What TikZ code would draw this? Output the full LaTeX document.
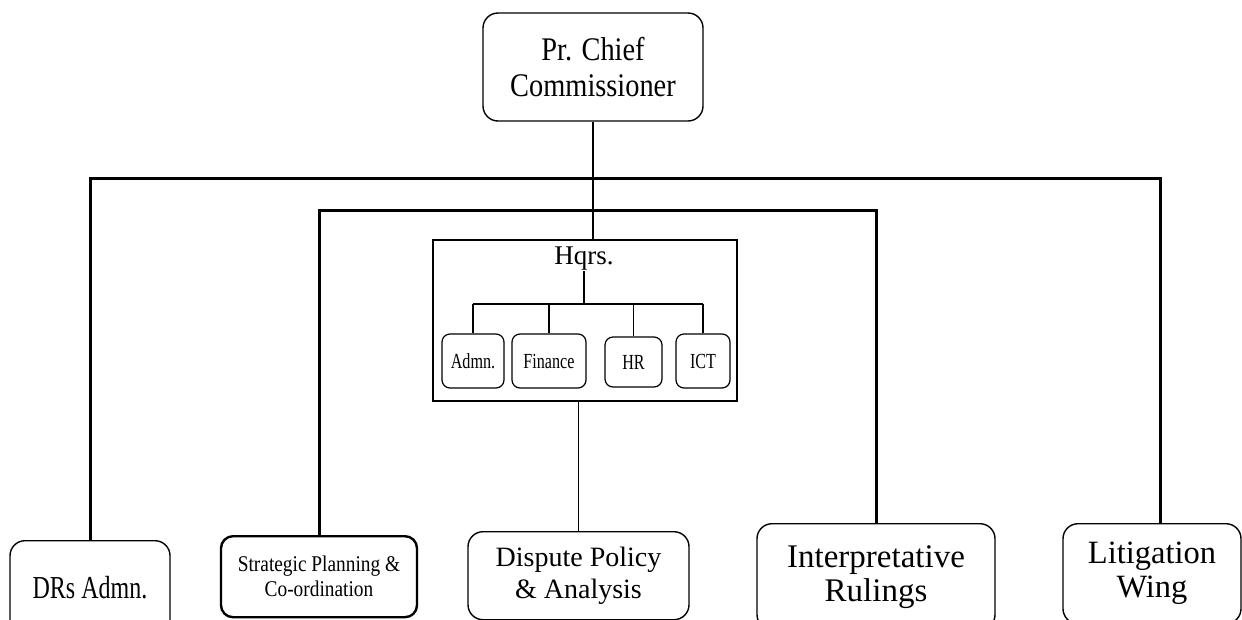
\documentclass[tikz,border=0pt]{standalone}
\usepackage{fontspec}
\setmainfont{Liberation Serif}
\newfontfamily\narrowA[FakeStretch=0.75]{Liberation Serif}
\newfontfamily\narrowB[FakeStretch=0.86]{Liberation Serif}
\begin{document}
\begin{tikzpicture}[x=1pt,y=-1pt,
  box/.style={draw,line width=1.4pt,rounded corners=15pt,align=center,inner sep=0pt},
  subbox/.style={draw,line width=1.2pt,rounded corners=8pt,align=center,inner sep=0pt,
    font=\narrowA\fontsize{21.5}{24}\selectfont},
  thin/.style={line width=1.2pt},
  heavy/.style={line width=3pt}]
\useasboundingbox (0,0) rectangle (1242,619);
\clip (0,0) rectangle (1242,619);

% top office
\node[box,minimum width=220pt,minimum height=108pt,
  font=\narrowB\fontsize{33}{36}\selectfont] (pcc) at (593,67) {Pr. Chief\\Commissioner};

% headquarters group
\node[draw,thin,minimum width=304pt,minimum height=161pt,inner sep=0pt] (hq) at (585,320.5) {};
\node[font=\fontsize{27}{30}\selectfont,inner sep=0pt] (hqlabel) at (584,259) {Hqrs.};
\node[subbox,minimum width=62pt,minimum height=54pt] (admn) at (473,361) {Admn.};
\node[subbox,minimum width=74pt,minimum height=54pt] (fin) at (549,361) {Finance};
\node[subbox,minimum width=57pt,minimum height=50pt] (hr) at (633.5,362) {HR};
\node[subbox,minimum width=54pt,minimum height=54pt] (ict) at (703,361) {ICT};
\coordinate (bus) at (584,304);

% wings
\node[box,anchor=north,minimum width=160pt,minimum height=94pt,
  font=\narrowA\fontsize{32}{34}\selectfont] (drs) at (90,540) {DRs Admn.};
\node[box,anchor=north,line width=2.4pt,rounded corners=12pt,minimum width=196pt,minimum height=81pt,
  font=\narrowB\fontsize{22.5}{25}\selectfont] (spc) at (319,535) {Strategic Planning \&\\Co-ordination};
\node[box,anchor=north,minimum width=221pt,minimum height=88pt,
  font=\fontsize{28}{32}\selectfont] (dpa) at (578.5,531) {Dispute Policy\\\& Analysis};
\node[box,anchor=north,minimum width=238pt,minimum height=106pt,
  font=\fontsize{33}{34}\selectfont] (ipr) at (876,523) {Interpretative\\Rulings};
\node[box,anchor=north,minimum width=178pt,minimum height=100pt,
  font=\fontsize{32.5}{34}\selectfont] (lit) at (1152,523) {Litigation\\Wing};

% bracket levels
\coordinate (outerY) at (0,178);
\coordinate (innerY) at (0,210);
\coordinate (litTop) at ([xshift=8pt]lit.north);

% connectors
\draw[thin] (pcc.south) -- (pcc.south |- hq.north);
\draw[heavy] (drs.north) -- (drs.north |- outerY) -- (litTop |- outerY) -- (litTop);
\draw[heavy] (spc.north) -- (spc.north |- innerY) -- (ipr.north |- innerY) -- (ipr.north);
\draw[thin] (hqlabel.south) -- (hqlabel.south |- bus);
\draw[thin] (admn.north |- bus) -- (ict.north |- bus);
\foreach \n in {admn,fin,hr,ict}
  \draw[thin] (\n.north |- bus) -- (\n.north);
\draw[thin] (dpa.north |- hq.south) -- (dpa.north);
\end{tikzpicture}
\end{document}
